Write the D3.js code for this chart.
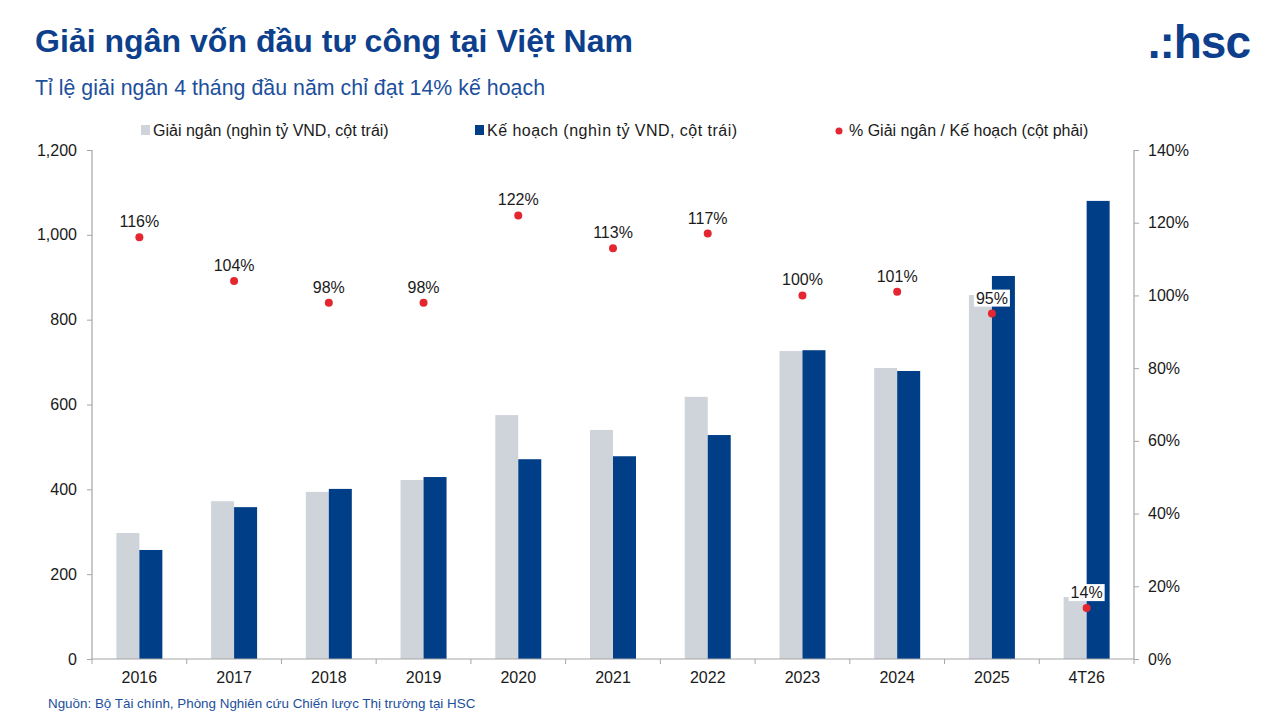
<!DOCTYPE html>
<html><head><meta charset="utf-8">
<script src="https://cdn.jsdelivr.net/npm/d3@7"></script>
<style>
html,body{margin:0;padding:0;background:#fff;}
svg{display:block;font-family:"Liberation Sans",Arial,sans-serif;}
</style></head>
<body>
<svg id="chart" width="1280" height="719"></svg>
<script>
const categories = ["2016","2017","2018","2019","2020","2021","2022","2023","2024","2025","4T26"];
const disbursed = [297, 372, 394, 422, 575, 540, 618, 726, 686, 858, 146];
const planned = [257, 358, 401, 429, 471, 478, 528, 728, 679, 903, 1080];
const ratio = [116, 104, 98, 98, 122, 113, 117, 100, 101, 95, 14];
const leftTicks = [0, 200, 400, 600, 800, 1000, 1200];
const rightTicks = [0, 20, 40, 60, 80, 100, 120, 140];
const seriesNames = ["Giải ngân (nghìn tỷ VND, cột trái)", "Kế hoạch (nghìn tỷ VND, cột trái)", "% Giải ngân / Kế hoạch (cột phải)"];

(function(){
const GRAY = "#cfd3da", BLUE = "#003f87", RED = "#e3262f", AXIS = "#a6a6a6", TXT = "#1a1a1a";
const svg = d3.select("#chart");

const pL = 92, pR = 1134, pT = 150, pB = 659;
const x = d3.scaleBand().domain(categories).range([pL, pR]).paddingInner(0).paddingOuter(0);
const y = d3.scaleLinear().domain([0, 1200]).range([pB, pT]);
const y2 = d3.scaleLinear().domain([0, 140]).range([pB, pT]);
const barW = 23;

// Title
svg.append("text").attr("x", 35).attr("y", 52).attr("fill", "#0d3f8c")
  .attr("font-size", 32).attr("font-weight", "bold").attr("textLength", 598).text("Giải ngân vốn đầu tư công tại Việt Nam");
svg.append("text").attr("x", 35).attr("y", 95).attr("fill", "#1c4f9c")
  .attr("font-size", 21.3).attr("textLength", 510).text("Tỉ lệ giải ngân 4 tháng đầu năm chỉ đạt 14% kế hoạch");
// Logo
svg.append("text").attr("x", 1250).attr("y", 58).attr("text-anchor", "end").attr("fill", "#0d3f8c")
  .attr("font-size", 46).attr("font-weight", "bold").attr("letter-spacing", -1).text(".:hsc");

// Legend
const lg = svg.append("g").attr("font-size", 16).attr("fill", TXT);
lg.append("rect").attr("x", 141).attr("y", 125).attr("width", 9).attr("height", 10).attr("fill", GRAY);
lg.append("text").attr("x", 153).attr("y", 136).text(seriesNames[0]);
lg.append("rect").attr("x", 475).attr("y", 125).attr("width", 9).attr("height", 10).attr("fill", BLUE);
lg.append("text").attr("x", 487).attr("y", 136).attr("textLength", 250).text(seriesNames[1]);
lg.append("circle").attr("cx", 839).attr("cy", 131).attr("r", 3.5).attr("fill", RED);
lg.append("text").attr("x", 849).attr("y", 136).text(seriesNames[2]);

// Bars
const g = svg.append("g");
g.selectAll("rect.d").data(categories).enter().append("rect")
  .attr("x", d => x(d) + x.bandwidth()/2 - barW)
  .attr("y", (d,i) => y(disbursed[i]))
  .attr("width", barW).attr("height", (d,i) => y(0) - y(disbursed[i]))
  .attr("fill", GRAY);
g.selectAll("rect.p").data(categories).enter().append("rect")
  .attr("x", d => x(d) + x.bandwidth()/2)
  .attr("y", (d,i) => y(planned[i]))
  .attr("width", barW).attr("height", (d,i) => y(0) - y(planned[i]))
  .attr("fill", BLUE);

// Axes
const axL = d3.axisLeft(y).tickValues(leftTicks).tickSize(5).tickPadding(10).tickFormat(d3.format(","));
const gl = svg.append("g").attr("transform", `translate(${pL},0)`).call(axL);
const axR = d3.axisRight(y2).tickValues(rightTicks).tickSize(5).tickPadding(9).tickFormat(d => d + "%");
const gr = svg.append("g").attr("transform", `translate(${pR},0)`).call(axR);
const axB = d3.axisBottom(x).tickSize(0).tickPadding(13);
const gb = svg.append("g").attr("transform", `translate(0,${pB})`).call(axB);
const bounds = categories.map(c => x(c)).concat([pR]);
svg.append("g").selectAll("line").data(bounds).enter().append("line")
  .attr("x1", d => d).attr("x2", d => d).attr("y1", pB).attr("y2", pB + 5)
  .attr("stroke", AXIS).attr("stroke-width", 1);
[gl, gr, gb].forEach(a => {
  a.select(".domain").attr("stroke", AXIS).attr("stroke-width", 1.2);
  a.selectAll(".tick line").attr("stroke", AXIS);
  a.selectAll("text").attr("font-size", 16).attr("fill", TXT).attr("font-family", "Liberation Sans, Arial, sans-serif");
});
gl.select(".domain").attr("d", `M0,${pT}V${pB}`);
gr.select(".domain").attr("d", `M0,${pT}V${pB}`);
gb.select(".domain").attr("d", `M${pL},0H${pR}`);

// Dots and labels
const pg = svg.append("g");
categories.forEach((c, i) => {
  const cx = x(c) + x.bandwidth()/2, cy = y2(ratio[i]);
  const t = pg.append("text").attr("x", cx).attr("y", cy - 10).attr("text-anchor", "middle")
    .attr("font-size", 16).attr("fill", TXT).text(ratio[i] + "%");
  const bb = t.node().getBBox();
  pg.insert("rect", "text").attr("x", bb.x - 2).attr("y", bb.y).attr("width", bb.width + 4).attr("height", bb.height).attr("fill", "#fff");
  pg.append("circle").attr("cx", cx).attr("cy", cy).attr("r", 4).attr("fill", RED);
});

// Source
svg.append("text").attr("x", 48).attr("y", 708).attr("fill", "#1c4f9c").attr("font-size", 13.4)
  .text("Nguồn: Bộ Tài chính, Phòng Nghiên cứu Chiến lược Thị trường tại HSC");
})();
</script>
</body></html>
